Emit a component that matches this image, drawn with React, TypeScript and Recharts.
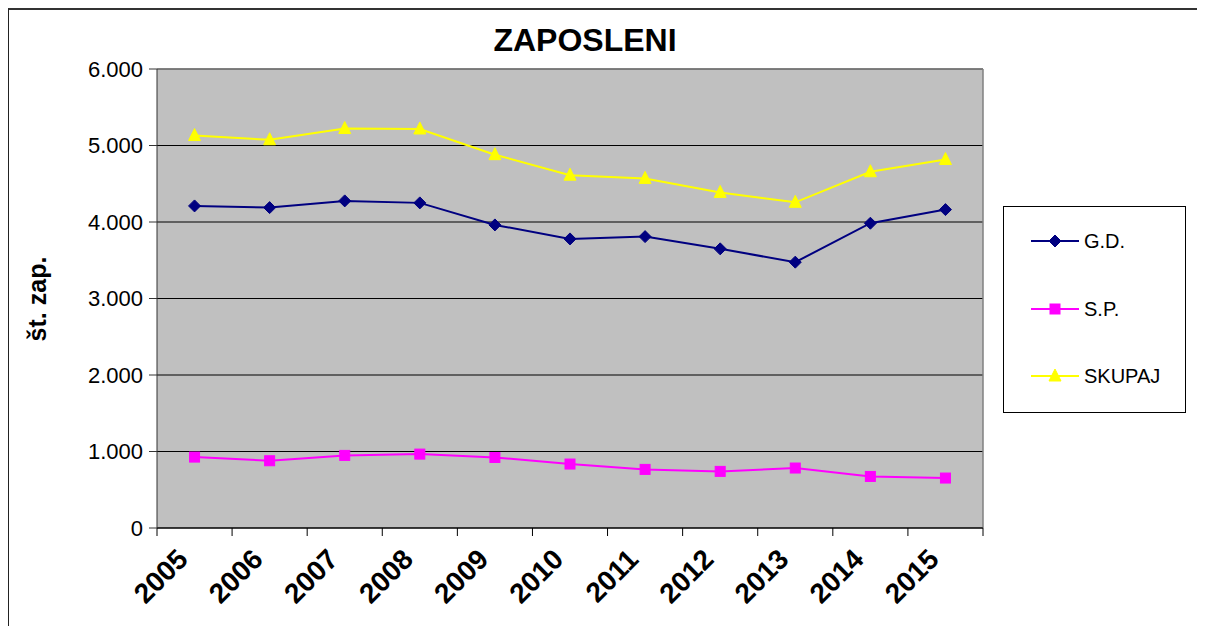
import { LineChart, Line, XAxis, YAxis, CartesianGrid, Legend, ReferenceLine } from "recharts";

const FONT = "'Liberation Sans', Arial, sans-serif";

const YEARS = ["2005", "2006", "2007", "2008", "2009", "2010", "2011", "2012", "2013", "2014", "2015"];
const GD = [4210, 4188, 4276, 4250, 3962, 3779, 3809, 3649, 3475, 3984, 4162];
const SP = [927, 879, 949, 966, 922, 836, 766, 740, 784, 674, 653];
const SKUPAJ = [5130, 5075, 5222, 5216, 4880, 4612, 4570, 4387, 4257, 4657, 4817];
const Y_TICKS = [0, 1000, 2000, 3000, 4000, 5000, 6000];

const data = YEARS.map((year, i) => ({ x: i + 0.5, year, gd: GD[i], sp: SP[i], skupaj: SKUPAJ[i] }));
const BOUNDS = [...YEARS.map((_, i) => i), YEARS.length];
const CENTERS = YEARS.map((_, i) => i + 0.5);

const SERIES = [
  { key: "gd", name: "G.D.", color: "#000080", shape: "diamond" },
  { key: "sp", name: "S.P.", color: "#FF00FF", shape: "square" },
  { key: "skupaj", name: "SKUPAJ", color: "#FFFF00", shape: "triangle" },
];

const fmt = (v: number) => String(v).replace(/\B(?=(\d{3})+(?!\d))/g, ".");

function Marker({ cx, cy, shape, color }: { cx: number; cy: number; shape: string; color: string }) {
  if (shape === "diamond") {
    return <polygon points={`${cx},${cy - 6} ${cx + 6},${cy} ${cx},${cy + 6} ${cx - 6},${cy}`} fill={color} stroke={color} />;
  }
  if (shape === "square") {
    return <rect x={cx - 5} y={cy - 5} width={10} height={10} fill={color} stroke={color} />;
  }
  return <polygon points={`${cx},${cy - 7} ${cx + 6},${cy + 5} ${cx - 6},${cy + 5}`} fill={color} stroke={color} />;
}

const makeDot = (shape: string, color: string) => (props: any) => (
  <Marker key={`${shape}-${props.index}`} cx={props.cx} cy={props.cy} shape={shape} color={color} />
);

const YearTick = ({ x, y, payload }: any) => {
  const tx = x - 5;
  return (
    <text x={tx} y={y} transform={`rotate(-45 ${tx} ${y})`} textAnchor="end" fontSize={28} fontWeight="bold" fontFamily={FONT} fill="#000">
      {YEARS[Math.floor(payload.value)]}
    </text>
  );
};

const LegendBox = () => (
  <div style={{ position: "relative", width: "100%", height: "100%", fontFamily: FONT }}>
    {SERIES.map((s, i) => (
      <div key={s.key} style={{ position: "absolute", left: 0, top: 34 + i * 67.5 - 12, height: 24, width: "100%" }}>
        <svg width={60} height={24} style={{ position: "absolute", left: 27, top: 0 }}>
          <line x1={0} y1={12} x2={48} y2={12} stroke={s.color} strokeWidth={2} />
          <Marker cx={24} cy={12} shape={s.shape} color={s.color} />
        </svg>
        <span style={{ position: "absolute", left: 80, top: 0, lineHeight: "24px", fontSize: 20, color: "#000" }}>{s.name}</span>
      </div>
    ))}
  </div>
);

export default function App() {
  return (
    <div
      style={{
        position: "relative",
        width: 1197,
        height: 618,
        borderTop: "2px solid #333",
        borderLeft: "1px solid #222",
        boxSizing: "border-box",
        background: "#fff",
        fontFamily: FONT,
      }}
    >
      <LineChart width={1196} height={616} data={data} margin={{ top: 59, right: 222, bottom: 0, left: 0 }}>
        <CartesianGrid vertical={false} stroke="#000" fill="#C0C0C0" fillOpacity={1} />
        <XAxis
          xAxisId={0}
          type="number"
          dataKey="x"
          domain={[0, 11]}
          ticks={BOUNDS}
          tickFormatter={() => ""}
          tickSize={8}
          height={8}
          stroke="#000"
        />
        <XAxis
          xAxisId="lbl"
          type="number"
          dataKey="x"
          domain={[0, 11]}
          ticks={CENTERS}
          tick={<YearTick />}
          tickSize={0}
          tickMargin={25}
          axisLine={false}
          tickLine={false}
          height={90}
        />
        <YAxis
          domain={[0, 6000]}
          ticks={Y_TICKS}
          tickFormatter={fmt}
          width={148}
          tickSize={8}
          tickMargin={6}
          stroke="#333"
          tick={{ fill: "#000", fontSize: 22, fontFamily: FONT }}
        />
        <ReferenceLine y={6000} stroke="#808080" strokeWidth={1.5} />
        <ReferenceLine x={11} stroke="#808080" strokeWidth={1.5} />
        {SERIES.map((s) => (
          <Line
            key={s.key}
            dataKey={s.key}
            name={s.name}
            type="linear"
            stroke={s.color}
            strokeWidth={2}
            dot={makeDot(s.shape, s.color)}
            activeDot={false}
            isAnimationActive={false}
          />
        ))}
        <Legend
          layout="horizontal"
          align="center"
          verticalAlign="middle"
          content={<LegendBox />}
          wrapperStyle={{
            position: "absolute",
            left: 994,
            top: 196,
            width: 183,
            height: 207,
            border: "1px solid #000",
            background: "#fff",
            boxSizing: "border-box",
          }}
        />
      </LineChart>
      <div
        style={{
          position: "absolute",
          left: 376,
          top: 14,
          width: 400,
          textAlign: "center",
          fontSize: 32,
          lineHeight: "32px",
          fontWeight: "bold",
          color: "#000",
        }}
      >
        ZAPOSLENI
      </div>
      <div
        style={{
          position: "absolute",
          left: 28 - 100,
          top: 289 - 15,
          width: 200,
          height: 30,
          lineHeight: "30px",
          textAlign: "center",
          fontSize: 25,
          fontWeight: "bold",
          color: "#000",
          transform: "rotate(-90deg)",
        }}
      >
        št. zap.
      </div>
    </div>
  );
}
